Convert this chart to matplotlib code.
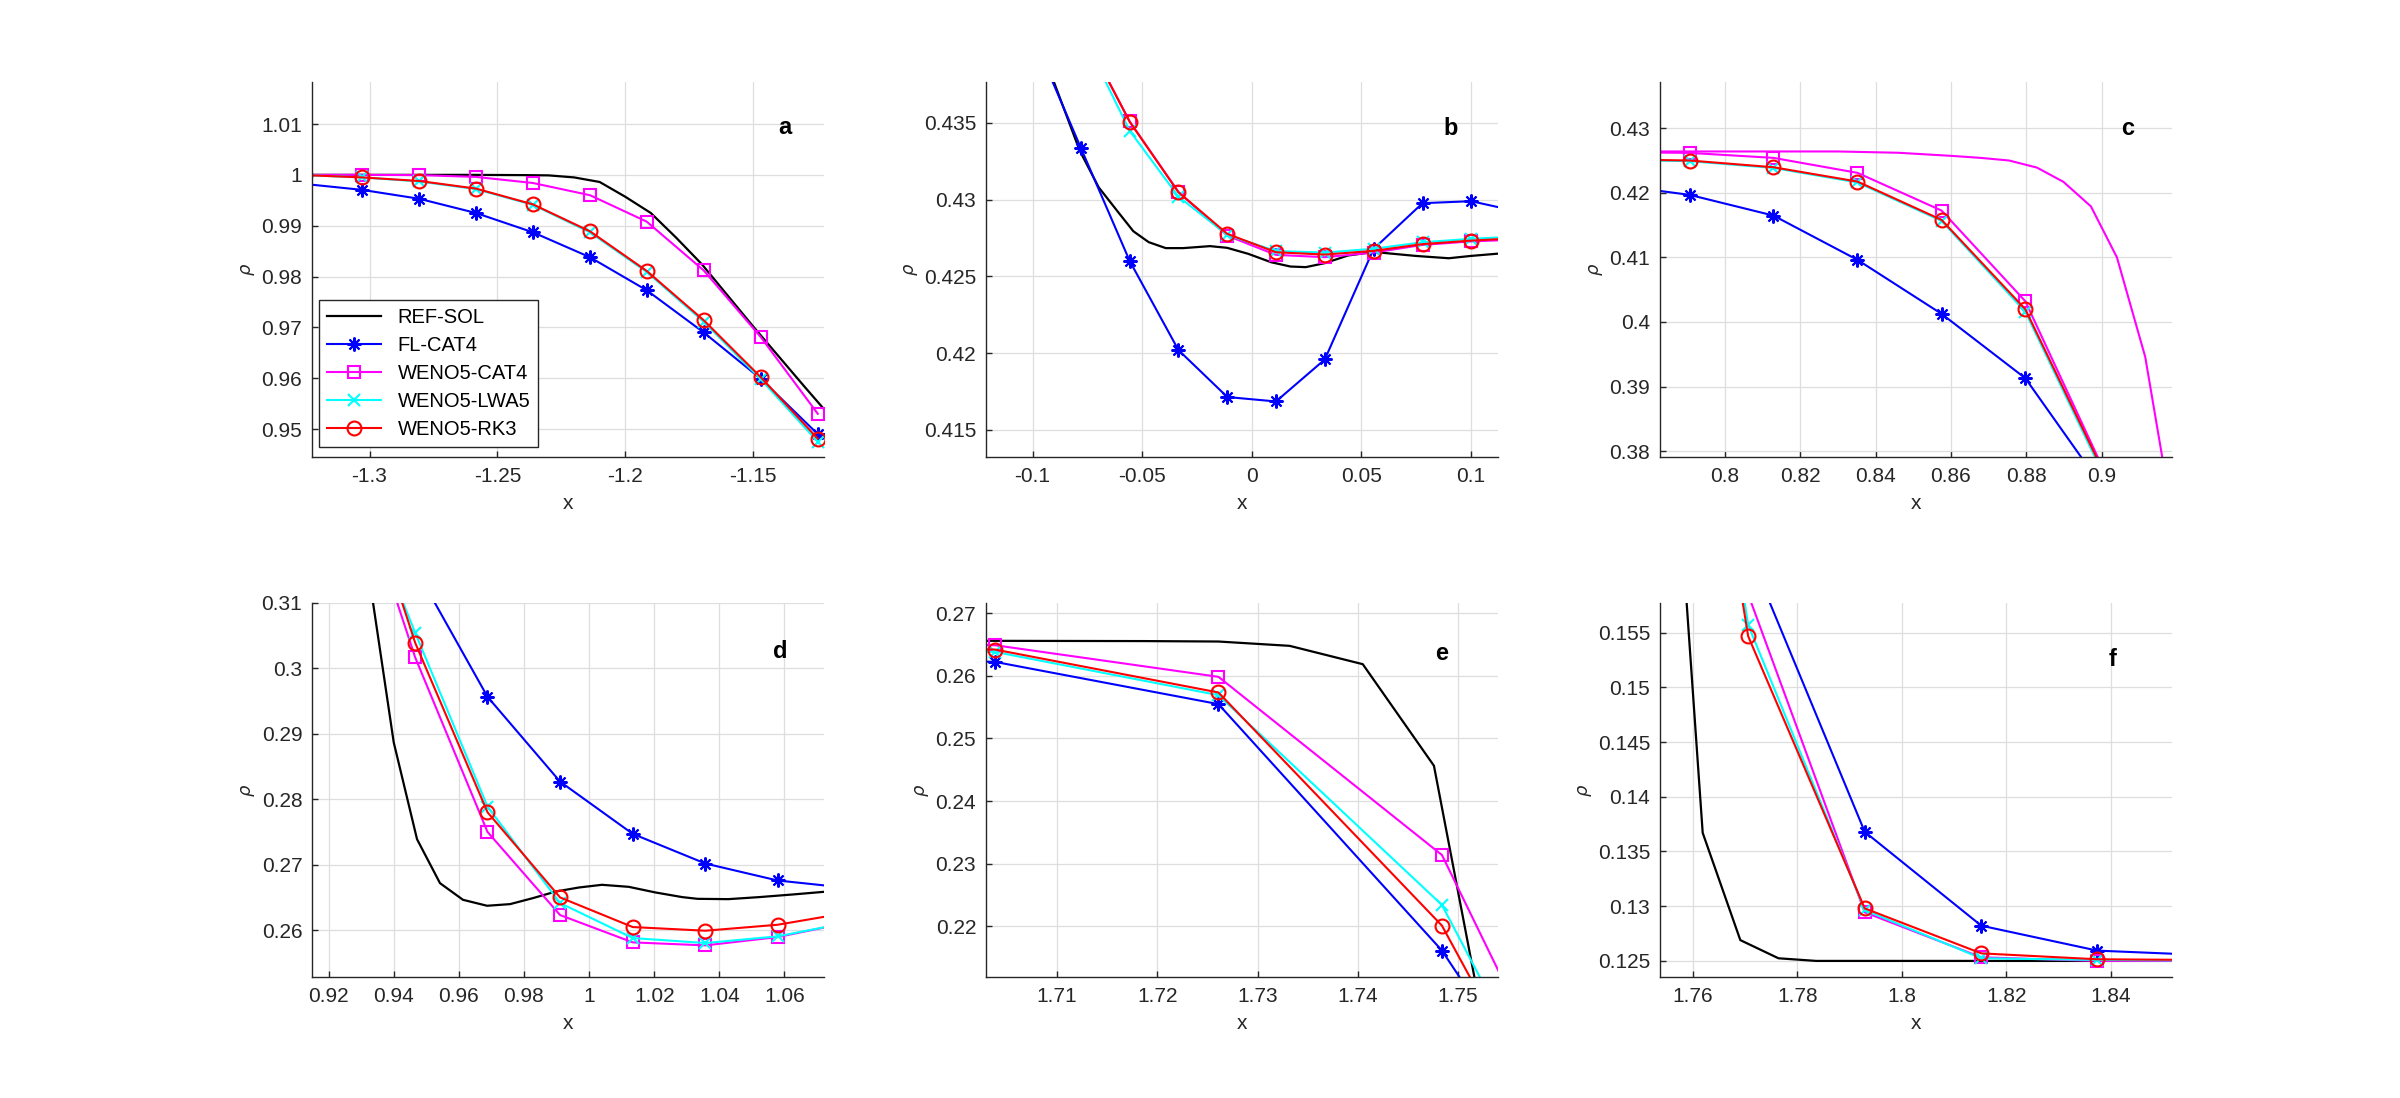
import numpy as np
import matplotlib
matplotlib.use('Agg')
import matplotlib.pyplot as plt
from matplotlib.ticker import FuncFormatter

# ---- data (Sod tube, density zooms) ----
names = ['REF-SOL', 'FL-CAT4', 'WENO5-CAT4', 'WENO5-LWA5', 'WENO5-RK3']

# panel a : head of the rarefaction
x_a = [-1.3252, -1.3029, -1.2806, -1.2584, -1.2361, -1.2138, -1.1916, -1.1693, -1.1470, -1.1247]
fl_a = [0.9982, 0.99705, 0.9953, 0.9925, 0.9887, 0.9838, 0.9773, 0.9690, 0.9599, 0.9490]
cat_a = [1.0000, 1.0000, 0.99995, 0.9996, 0.9984, 0.9960, 0.9908, 0.9812, 0.9681, 0.9530]
lwa_a = [0.99995, 0.9995, 0.9987, 0.9972, 0.9941, 0.9887, 0.9809, 0.9711, 0.9598, 0.9475]
rk_a = [0.99995, 0.9995, 0.9988, 0.9973, 0.9942, 0.9889, 0.9811, 0.9714, 0.9602, 0.9481]
xref_a = [-1.34, -1.30, -1.26, -1.24, -1.23, -1.22, -1.21, -1.20, -1.19, -1.18,
          -1.17, -1.16, -1.15, -1.14, -1.13, -1.12]
ref_a = [1.0, 1.0, 1.0, 0.99995, 0.9999, 0.9995, 0.9986, 0.9957, 0.9925, 0.9876,
         0.9824, 0.9763, 0.9702, 0.9643, 0.9584, 0.9526]

# panel b : tail of the rarefaction
x_b = [-0.1225, -0.1002, -0.0780, -0.0557, -0.0334, -0.0111, 0.0111, 0.0334, 0.0557, 0.0780, 0.1002, 0.1225]
fl_b = [0.4475, 0.4408, 0.43339, 0.42601, 0.42019, 0.41713, 0.41684, 0.41958, 0.42679, 0.42977, 0.42990, 0.4292]
cat_b = [0.455, 0.4475, 0.4412, 0.4351, 0.4305, 0.42765, 0.42640, 0.42625, 0.42655, 0.42705, 0.42728, 0.4274]
lwa_b = [0.455, 0.4475, 0.4410, 0.4345, 0.4302, 0.42770, 0.42665, 0.42655, 0.42680, 0.42722, 0.42745, 0.4276]
rk_b = [0.455, 0.4475, 0.4412, 0.43509, 0.43048, 0.42777, 0.42657, 0.42642, 0.42666, 0.42710, 0.42733, 0.4275]
xref_b = [-0.125, -0.1, -0.0902, -0.0785, -0.0698, -0.061, -0.054, -0.047, -0.0392, -0.0313,
          -0.019, -0.0112, -0.0016, 0.0089, 0.0177, 0.0247, 0.0334, 0.044, 0.0557, 0.075,
          0.09, 0.1, 0.1125, 0.125]
ref_b = [0.4470, 0.4418, 0.43765, 0.4332, 0.4308, 0.4292, 0.42794, 0.42723, 0.42684, 0.42684,
         0.42697, 0.42686, 0.42647, 0.42592, 0.42564, 0.4256, 0.42586, 0.42636, 0.42659, 0.42633,
         0.42618, 0.42633, 0.42648, 0.4266]

# panels c and d : contact discontinuity
x_cd = [0.7684, 0.7907, 0.8129, 0.8352, 0.8575, 0.8797, 0.9020, 0.9243,
        0.9466, 0.9688, 0.9911, 1.0134, 1.0357, 1.0579, 1.0802]
fl_cd = [0.4214, 0.41968, 0.41648, 0.40962, 0.40126, 0.3913, 0.3729, 0.335,
         0.3153, 0.29562, 0.28266, 0.27469, 0.27016, 0.26757, 0.2664]
cat_cd = [0.4263, 0.42618, 0.42541, 0.42309, 0.41725, 0.40322, 0.3752, 0.3353,
          0.30162, 0.27499, 0.26229, 0.25812, 0.25766, 0.25893, 0.2612]
lwa_cd = [0.4251, 0.4249, 0.42385, 0.42160, 0.41565, 0.40160, 0.3744, 0.333,
          0.30538, 0.27885, 0.26412, 0.25878, 0.25802, 0.25904, 0.2612]
rk_cd = [0.4252, 0.4250, 0.42396, 0.42174, 0.41581, 0.40198, 0.3749, 0.3378,
         0.30385, 0.27799, 0.26498, 0.26046, 0.2599, 0.26081, 0.2627]
# unmarked magenta curve seen in panel c
xcat_fine_c = [0.76, 0.80, 0.83, 0.846, 0.8606, 0.868, 0.8754, 0.8828, 0.8898, 0.8971, 0.904, 0.9115, 0.919]
cat_fine_c = [0.4264, 0.4264, 0.4264, 0.4262, 0.4257, 0.4254, 0.4250, 0.4239, 0.4217, 0.4179, 0.4100, 0.3946, 0.3688]
xref_d = [0.915, 0.9265, 0.93364, 0.94, 0.94716, 0.95421, 0.96127, 0.96867, 0.97573, 0.98278,
          0.98984, 0.99689, 1.00395, 1.01218, 1.0204, 1.02863, 1.0333, 1.04275, 1.0522, 1.06273,
          1.07215, 1.08]
ref_d = [0.4263, 0.345, 0.3100, 0.28866, 0.27387, 0.26716, 0.26462, 0.26371, 0.26396, 0.26488,
         0.26589, 0.2665, 0.26691, 0.2666, 0.26574, 0.26503, 0.26477, 0.26472, 0.26503, 0.26544,
         0.26584, 0.2661]

# panels e and f : shock
x_ef = [1.6815, 1.7038, 1.7261, 1.7484, 1.7706, 1.7929, 1.8152, 1.8374, 1.8597]
fl_ef = [0.2632, 0.26223, 0.25548, 0.21612, 0.1625, 0.1368, 0.12822, 0.12594, 0.1255]
cat_ef = [0.2653, 0.26489, 0.25984, 0.23138, 0.1585, 0.12944, 0.12533, 0.12500, 0.12500]
lwa_ef = [0.2645, 0.26383, 0.25691, 0.2234, 0.1557, 0.12965, 0.12524, 0.12509, 0.12503]
rk_ef = [0.2650, 0.2642, 0.25734, 0.2201, 0.15467, 0.1298, 0.12569, 0.12515, 0.12508]
xref_ef = [1.68, 1.70, 1.7187, 1.7261, 1.7332, 1.7405, 1.7476, 1.7549, 1.7619, 1.7691,
           1.7764, 1.7836, 1.80, 1.86]
ref_ef = [0.2656, 0.2656, 0.26555, 0.26548, 0.26479, 0.26186, 0.24564, 0.1846, 0.1367, 0.1269,
          0.12524, 0.12500, 0.125, 0.125]

# axis limits and ticks
xlims = [(-1.3225, -1.1222), (-0.1213, 0.1125), (0.7828, 0.9186),
         (0.9149, 1.0722), (1.7029, 1.7540), (1.7537, 1.8517)]
ylims = [(0.9445, 1.0182), (0.41322, 0.43765), (0.3791, 0.4371),
         (0.2528, 0.3100), (0.21186, 0.2717), (0.12351, 0.15774)]
xticks = [[-1.3, -1.25, -1.2, -1.15], [-0.1, -0.05, 0, 0.05, 0.1],
          [0.8, 0.82, 0.84, 0.86, 0.88, 0.9], [0.92, 0.94, 0.96, 0.98, 1, 1.02, 1.04, 1.06],
          [1.71, 1.72, 1.73, 1.74, 1.75], [1.76, 1.78, 1.8, 1.82, 1.84]]
yticks = [[0.95, 0.96, 0.97, 0.98, 0.99, 1, 1.01], [0.415, 0.42, 0.425, 0.43, 0.435],
          [0.38, 0.39, 0.4, 0.41, 0.42, 0.43], [0.26, 0.27, 0.28, 0.29, 0.3, 0.31],
          [0.22, 0.23, 0.24, 0.25, 0.26, 0.27], [0.125, 0.13, 0.135, 0.14, 0.145, 0.15, 0.155]]
letters = ['a', 'b', 'c', 'd', 'e', 'f']
letter_pos = [(0.923, 0.88), (0.907, 0.876), (0.914, 0.876), (0.914, 0.87), (0.89, 0.865), (0.883, 0.848)]

plt.rcParams['font.family'] = ['Liberation Sans', 'DejaVu Sans']
dark = '#262626'
asterisk = (8, 2, 0)
col_fl, col_cat, col_lwa, col_rk = '#0000ff', '#ff00ff', '#00ffff', '#ff0000'


def series(ax, x, fl, cat, lwa, rk, xr=None, ref=None):
    if xr is not None:
        ax.plot(xr, ref, '-', color='k', lw=1.6, label=names[0])
    ax.plot(x, fl, '-', color=col_fl, lw=1.5, marker=asterisk, ms=10, mew=1.5, label=names[1])
    ax.plot(x, cat, '-', color=col_cat, lw=1.5, marker='s', ms=8, mfc='none', mew=1.5, label=names[2])
    ax.plot(x, lwa, '-', color=col_lwa, lw=1.5, marker='x', ms=8, mew=1.5, label=names[3])
    ax.plot(x, rk, '-', color=col_rk, lw=1.5, marker='o', ms=10, mfc='none', mew=1.5, label=names[4])


fig = plt.figure(figsize=(24, 10.98), dpi=100)
lefts = [0.13, 0.4108, 0.6916]
bottoms = [0.5838, 0.11]
axes = []
for k in range(6):
    r, c = divmod(k, 3)
    axes.append(fig.add_axes([lefts[c], bottoms[r], 0.2134, 0.3412]))

series(axes[0], x_a, fl_a, cat_a, lwa_a, rk_a, xref_a, ref_a)
series(axes[1], x_b, fl_b, cat_b, lwa_b, rk_b, xref_b, ref_b)
axes[2].plot(xcat_fine_c, cat_fine_c, '-', color=col_cat, lw=1.5)
series(axes[2], x_cd, fl_cd, cat_cd, lwa_cd, rk_cd)
series(axes[3], x_cd, fl_cd, cat_cd, lwa_cd, rk_cd, xref_d, ref_d)
series(axes[4], x_ef, fl_ef, cat_ef, lwa_ef, rk_ef, xref_ef, ref_ef)
series(axes[5], x_ef, fl_ef, cat_ef, lwa_ef, rk_ef, xref_ef, ref_ef)

fmt = FuncFormatter(lambda v, p: f'{v:g}')
for k, ax in enumerate(axes):
    ax.set_xlim(*xlims[k])
    ax.set_ylim(*ylims[k])
    ax.set_xticks(xticks[k])
    ax.set_yticks(yticks[k])
    ax.xaxis.set_major_formatter(fmt)
    ax.yaxis.set_major_formatter(fmt)
    ax.grid(True, color='#dedede', lw=0.9)
    ax.set_axisbelow(True)
    for s in ['top', 'right']:
        ax.spines[s].set_visible(False)
    for s in ['left', 'bottom']:
        ax.spines[s].set_color(dark)
        ax.spines[s].set_linewidth(1.0)
    ax.tick_params(direction='in', length=4, width=1.0, color=dark,
                   labelcolor=dark, labelsize=15, pad=7)
    ax.set_xlabel('x', fontsize=15, color=dark, labelpad=6)
    ax.set_ylabel(r'$\rho$', fontsize=13, color=dark, labelpad=3)
    fx, fy = letter_pos[k]
    ax.text(fx, fy, letters[k], transform=ax.transAxes, fontsize=17,
            fontweight='bold', ha='center', va='center')

leg = axes[0].legend(loc='lower left', bbox_to_anchor=(0.0135, 0.027), borderaxespad=0,
                     fontsize=14.5, handlelength=2.7, fancybox=False, framealpha=1,
                     edgecolor=dark, borderpad=0.4, labelspacing=0.45)
leg.get_frame().set_linewidth(1.0)

fig.savefig('out.png', dpi=100)
